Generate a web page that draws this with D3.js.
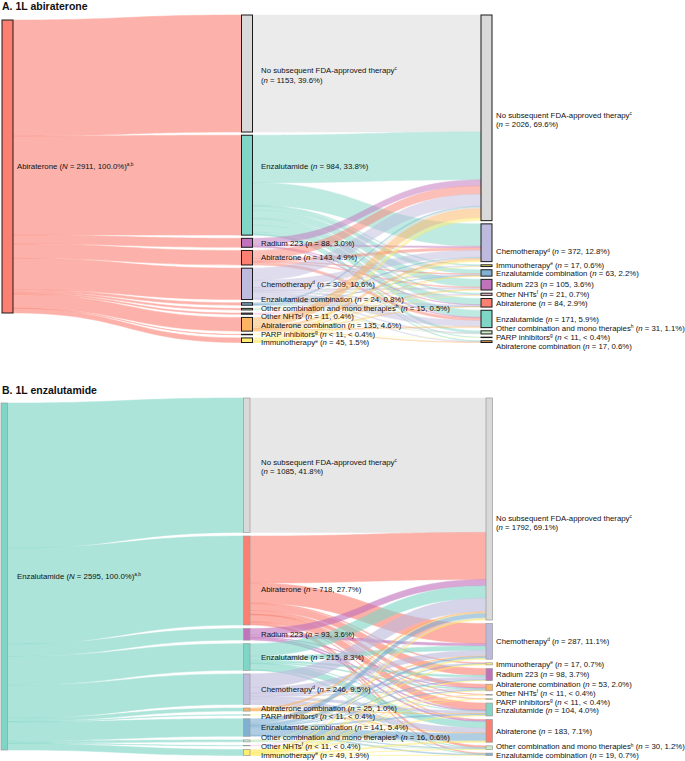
<!DOCTYPE html>
<html>
<head>
<meta charset="utf-8">
<script src="https://cdn.jsdelivr.net/npm/d3@7"></script>
<style>
body { margin: 0; background: #fff; }
svg { display: block; font-family: "Liberation Sans", Arial, sans-serif; }
</style>
</head>
<body>
<div id="chart"></div>
<script>
var W = 685, H = 761;

// footnote letters shown after some therapy names
var notes = {
	"No subsequent FDA-approved therapy": "c",
	"Chemotherapy": "d",
	"Immunotherapy": "e",
	"Other NHTs": "f",
	"PARP inhibitors": "g",
	"Other combination and mono therapies": "h"
};

var colors = {
	"No subsequent FDA-approved therapy": "#d9d9d9",
	"Enzalutamide": "#80d6c6",
	"Radium 223": "#c172bd",
	"Abiraterone": "#fb8072",
	"Chemotherapy": "#bebadd",
	"Enzalutamide combination": "#80b1d3",
	"Other combination and mono therapies": "#ccebc5",
	"Other NHTs": "#fccde5",
	"Abiraterone combination": "#fdb462",
	"PARP inhibitors": "#ffffb3",
	"Immunotherapy": "#ffed6f"
};

// ---- panel A : 1L abiraterone ----
var titleA = "A. 1L abiraterone";
var firstA = "Abiraterone";
var firstStatA = "= 2911, 100.0%";
var secondA = ["No subsequent FDA-approved therapy", "Enzalutamide", "Radium 223", "Abiraterone",
	"Chemotherapy", "Enzalutamide combination", "Other combination and mono therapies", "Other NHTs",
	"Abiraterone combination", "PARP inhibitors", "Immunotherapy"];
var secondStatA = ["= 1153, 39.6%", "= 984, 33.8%", "= 88, 3.0%", "= 143, 4.9%", "= 309, 10.6%",
	"= 24, 0.8%", "= 15, 0.5%", "= 11, 0.4%", "= 135, 4.6%", "< 11, < 0.4%", "= 45, 1.5%"];
var thirdA = ["No subsequent FDA-approved therapy", "Chemotherapy", "Immunotherapy", "Enzalutamide combination",
	"Radium 223", "Other NHTs", "Abiraterone", "Enzalutamide", "Other combination and mono therapies",
	"PARP inhibitors", "Abiraterone combination"];
var thirdStatA = ["= 2026, 69.6%", "= 372, 12.8%", "= 17, 0.6%", "= 63, 2.2%", "= 105, 3.6%", "= 21, 0.7%",
	"= 84, 2.9%", "= 171, 5.9%", "= 31, 1.1%", "< 11, < 0.4%", "= 17, 0.6%"];
// rows = 2L therapy (secondA order), columns = 3L therapy (thirdA order)
var flowA = [
	[1153, 0, 0, 0, 0, 0, 0, 0, 0, 0, 0],
	[470, 220, 8, 40, 75, 12, 60, 68, 21, 3, 7],
	[60, 15, 0, 0, 0, 0, 5, 8, 0, 0, 0],
	[80, 25, 0, 5, 8, 0, 0, 25, 0, 0, 0],
	[120, 70, 5, 10, 15, 5, 12, 60, 6, 0, 6],
	[12, 6, 0, 4, 0, 0, 2, 0, 0, 0, 0],
	[8, 3, 0, 0, 0, 0, 0, 0, 4, 0, 0],
	[6, 2, 0, 0, 0, 3, 0, 0, 0, 0, 0],
	[90, 20, 0, 1, 5, 0, 5, 10, 0, 0, 4],
	[2, 1, 0, 0, 0, 0, 0, 0, 0, 1, 0],
	[25, 10, 4, 3, 2, 1, 0, 0, 0, 0, 0]
];

// ---- panel B : 1L enzalutamide ----
var titleB = "B. 1L enzalutamide";
var firstB = "Enzalutamide";
var firstStatB = "= 2595, 100.0%";
var secondB = ["No subsequent FDA-approved therapy", "Abiraterone", "Radium 223", "Enzalutamide",
	"Chemotherapy", "Abiraterone combination", "PARP inhibitors", "Enzalutamide combination",
	"Other combination and mono therapies", "Other NHTs", "Immunotherapy"];
var secondStatB = ["= 1085, 41.8%", "= 718, 27.7%", "= 93, 3.6%", "= 215, 8.3%", "= 246, 9.5%",
	"= 25, 1.0%", "< 11, < 0.4%", "= 141, 5.4%", "= 16, 0.6%", "< 11, < 0.4%", "= 49, 1.9%"];
var thirdB = ["No subsequent FDA-approved therapy", "Chemotherapy", "Immunotherapy", "Radium 223",
	"Abiraterone combination", "Other NHTs", "PARP inhibitors", "Enzalutamide", "Abiraterone",
	"Other combination and mono therapies", "Enzalutamide combination"];
var thirdStatB = ["= 1792, 69.1%", "= 287, 11.1%", "= 17, 0.7%", "= 98, 3.7%", "= 53, 2.0%", "< 11, < 0.4%",
	"< 11, < 0.4%", "= 104, 4.0%", "= 183, 7.1%", "= 30, 1.2%", "= 19, 0.7%"];
var flowB = [
	[1085, 0, 0, 0, 0, 0, 0, 0, 0, 0, 0],
	[380, 160, 6, 55, 30, 2, 3, 55, 5, 15, 7],
	[50, 20, 0, 0, 3, 0, 0, 8, 12, 0, 0],
	[100, 35, 0, 15, 8, 0, 0, 2, 50, 3, 2],
	[110, 45, 2, 20, 6, 0, 0, 20, 40, 3, 0],
	[12, 5, 0, 0, 0, 0, 0, 3, 5, 0, 0],
	[2, 0, 0, 0, 0, 0, 2, 0, 0, 0, 0],
	[35, 15, 2, 6, 4, 0, 0, 10, 60, 2, 7],
	[7, 2, 0, 0, 0, 0, 0, 0, 2, 5, 0],
	[1, 0, 0, 0, 0, 2, 0, 0, 0, 0, 0],
	[10, 5, 7, 2, 2, 2, 1, 6, 9, 2, 3]
];

var svg = d3.select("#chart").append("svg")
	.attr("width", W)
	.attr("height", H);

var panels = [
	{title: titleA, first: firstA, firstStat: firstStatA, second: secondA, secondStat: secondStatA,
	 third: thirdA, thirdStat: thirdStatA, flow: flowA,
	 titleY: 9.5, top: 15, bottom: 342.5, firstTop: 20, firstBottom: 313, pad: 3.2, nodeW: 11,
	 colX: [2, 481], stroke: "#1a1a1a", strokeW: 1, op1: 0.6, op2: 0.5,
	 // hand nudges of a few labels, as in the original figure
	 nudge: {"1-1": -19, "2-1": 9}},
	{title: titleB, first: firstB, firstStat: firstStatB, second: secondB, secondStat: secondStatB,
	 third: thirdB, thirdStat: thirdStatB, flow: flowB,
	 titleY: 393.5, top: 398, bottom: 755.5, firstTop: 403, firstBottom: 750, pad: 3.6, nodeW: 6.5,
	 colX: [1, 486], stroke: "#9a9a9a", strokeW: 0.7, op1: 0.65, op2: 0.62,
	 nudge: {"1-1": 9, "2-0": 12}}
];

var labelX = [17, 261, 496];
var lineGap = 8.7;

function ribbon(l) {
	var sx = l.src.x1, tx = l.tgt.x0, mx = (sx + tx) / 2;
	var p = d3.path();
	p.moveTo(sx, l.s0);
	p.bezierCurveTo(mx, l.s0, mx, l.t0, tx, l.t0);
	p.lineTo(tx, l.t1);
	p.bezierCurveTo(mx, l.t1, mx, l.s1, sx, l.s1);
	p.closePath();
	return p.toString();
}

// push overlapping labels apart, keeping each cluster centred on its nodes
function spread(items) {
	var groups = items.map(function(d) { return {m: [d], c: d.c, size: d.size}; });
	var again = true;
	while (again) {
		again = false;
		for (var i = 0; i < groups.length - 1; i++) {
			var a = groups[i], b = groups[i + 1];
			if (b.c - b.size / 2 < a.c + a.size / 2) {
				var m = a.m.concat(b.m);
				groups.splice(i, 2, {m: m, c: d3.mean(m, function(d) { return d.c; }), size: a.size + b.size});
				again = true;
				break;
			}
		}
	}
	groups.forEach(function(g) {
		var y = g.c - g.size / 2;
		g.m.forEach(function(d) { d.y = y + d.size / 2; y += d.size; });
	});
}

function writeLabel(g, x, y, name, stat, letter, twoLine, afterNote) {
	var t = g.append("text")
		.attr("x", x)
		.attr("y", twoLine ? y - 3 : y)
		.attr("dy", "0.35em")
		.style("font-size", "7.8px")
		.style("fill", "#111");
	t.append("tspan").text(name);
	var note = notes[name];
	if (note && !afterNote) {
		t.append("tspan").attr("dy", -2.8).style("font-size", "4.8px").text(note);
	}
	var open = t.append("tspan");
	if (twoLine) {
		open.attr("x", x).attr("dy", note ? 12.3 : 9.5).text("(");
	} else {
		open.attr("dy", note && !afterNote ? 2.8 : 0).text(" (");
	}
	t.append("tspan").style("font-style", "italic").text(letter);
	t.append("tspan").text(" " + stat + ")");
	if (afterNote) {
		t.append("tspan").attr("dy", -2.8).style("font-size", "4.8px").text(afterNote);
	}
}

function drawPanel(p) {
	var g = svg.append("g");
	var n = p.second.length;
	var rowSums = p.flow.map(function(r) { return d3.sum(r); });
	var colSums = p.third.map(function(_, j) { return d3.sum(p.flow, function(r) { return r[j]; }); });
	var total = d3.sum(rowSums);

	var x = d3.scaleLinear().domain([0, 2]).range(p.colX);
	var h = d3.scaleLinear().domain([0, total]).range([0, p.bottom - p.top - (n - 1) * p.pad]);
	var h1 = d3.scaleLinear().domain([0, total]).range([p.firstTop, p.firstBottom]);

	function stack(vals, names, col) {
		var y = p.top;
		return vals.map(function(v, i) {
			var node = {name: names[i], value: v, x0: x(col), x1: x(col) + p.nodeW, y0: y, y1: y + h(v)};
			y = node.y1 + p.pad;
			return node;
		});
	}

	var root = {name: p.first, value: total, x0: x(0), x1: x(0) + p.nodeW, y0: h1(0), y1: h1(total)};
	var mid = stack(rowSums, p.second, 1);
	var end = stack(colSums, p.third, 2);

	var links = [];
	var acc = 0;
	mid.forEach(function(m) {
		links.push({src: root, tgt: m, s0: h1(acc), s1: h1(acc + m.value), t0: m.y0, t1: m.y1,
			color: colors[root.name], op: p.op1});
		acc += m.value;
	});

	var outOff = mid.map(function(m) { return m.y0; });
	var inOff = end.map(function(e) { return e.y0; });
	p.flow.forEach(function(row, i) {
		row.forEach(function(v, j) {
			if (!v) return;
			var w = h(v);
			links.push({src: mid[i], tgt: end[j], s0: outOff[i], s1: outOff[i] + w, t0: inOff[j], t1: inOff[j] + w,
				color: colors[mid[i].name], op: p.op2});
			outOff[i] += w;
			inOff[j] += w;
		});
	});

	g.append("g").selectAll("path")
		.data(links)
		.enter().append("path")
		.attr("d", ribbon)
		.attr("fill", function(d) { return d.color; })
		.attr("stroke", function(d) { return d.color; })
		.attr("stroke-width", 0.5)
		.attr("opacity", function(d) { return d.op; });

	var nodes = [root].concat(mid, end);
	g.append("g").selectAll("rect")
		.data(nodes)
		.enter().append("rect")
		.attr("x", function(d) { return d.x0; })
		.attr("y", function(d) { return d.y0; })
		.attr("width", p.nodeW)
		.attr("height", function(d) { return Math.max(0.4, d.y1 - d.y0); })
		.attr("fill", function(d) { return colors[d.name]; })
		.attr("stroke", p.stroke)
		.attr("stroke-width", p.strokeW);

	g.append("text")
		.attr("x", 2)
		.attr("y", p.titleY)
		.style("font-size", "10.5px")
		.style("font-weight", "bold")
		.style("fill", "#111")
		.text(p.title);

	writeLabel(g, labelX[0], (root.y0 + root.y1) / 2, p.first, p.firstStat, "N", false, "a,b");

	[[mid, p.secondStat, 1], [end, p.thirdStat, 2]].forEach(function(col) {
		var items = col[0].map(function(d, i) {
			var two = i === 0;
			return {node: d, stat: col[1][i], two: two, c: (d.y0 + d.y1) / 2, size: two ? lineGap * 2.2 : lineGap};
		});
		spread(items);
		items.forEach(function(it, i) {
			var dy = p.nudge[col[2] + "-" + i] || 0;
			writeLabel(g, labelX[col[2]], it.y + dy, it.node.name, it.stat, "n", it.two, null);
		});
	});
}

panels.forEach(drawPanel);
</script>
</body>
</html>
